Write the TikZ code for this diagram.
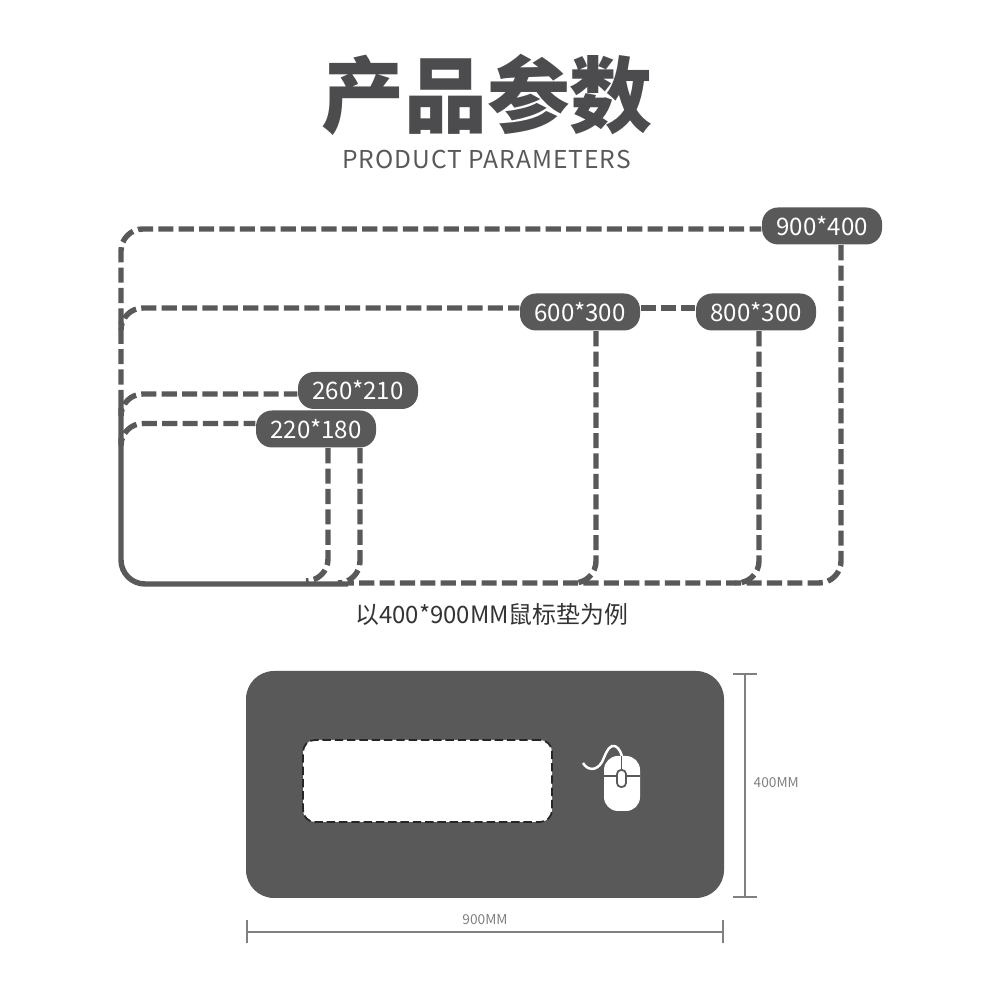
\documentclass[tikz,border=0pt]{standalone}
\usepackage{fontspec}
\setmainfont{Noto Sans CJK SC}
\newfontfamily\spacedfont[LetterSpace=4]{Noto Sans CJK SC}
\usepackage{xcolor}
\usetikzlibrary{positioning,calc}
\definecolor{padgray}{HTML}{595959}
\definecolor{titlegray}{HTML}{4C4C4E}
\definecolor{dimgray}{HTML}{808080}
\tikzset{
  sizetag/.style={fill=padgray,text=white,rounded corners=0.16cm,inner sep=0pt,minimum width=1.2cm,minimum height=0.37cm,font=\fontsize{6.85}{8}\selectfont},
  dashline/.style={padgray,line width=1.55pt,dash pattern=on 4.3pt off 1.5pt,rounded corners=0.22cm},
  solidline/.style={padgray,line width=1.55pt,rounded corners=0.24cm},
  dimline/.style={dimgray,line width=0.55pt},
  dimlabel/.style={text=dimgray,font=\fontsize{3.9}{5}\selectfont,inner sep=0pt}
}
\begin{document}
\begin{tikzpicture}
\useasboundingbox (0,0) rectangle (10,10);
\node[text=titlegray,font=\fontsize{23.6}{26}\selectfont\bfseries] (title) at (4.87,9.05) {产品参数};
\node[text=padgray,font=\fontsize{7}{8}\spacedfont] (subtitle) at (4.865,8.40) {PRODUCT PARAMETERS};

\foreach \x/\y/\name/\txt in {8.22/7.74/a/900*400,7.56/6.88/b/800*300,5.80/6.88/c/600*300,3.58/6.095/d/260*210,3.16/5.71/e/220*180}
  \node[sizetag] (tag\name) at (\x,\y) {\txt};

\coordinate (leftA) at (1.21,5.95);
\coordinate (leftB) at (1.21,6.78);
\coordinate (leftD) at (1.21,5.92);
\coordinate (leftE) at (1.21,5.62);
\coordinate (bottomA) at (3.48,4.17);
\coordinate (bottomB) at (7.35,4.17);
\coordinate (bottomC) at (5.75,4.17);
\coordinate (bottomD) at (3.38,4.17);
\coordinate (bottomE) at (3.06,4.19);
\coordinate (solidEnd) at (3.48,4.16);
\draw[dashline] (leftA) |- ($(taga.west)+(0,-0.03)$);
\draw[dashline] ($(taga.south)+(0.19,0)$) |- (bottomA);
\draw[dashline] (leftB) |- ($(tagc.west)+(0,0.04)$);
\draw[dashline] ($(tagc.east)+(0,0.04)$) -- ($(tagb.west)+(0,0.04)$);
\draw[dashline] ($(tagb.south)+(0.03,0)$) |- (bottomB);
\draw[dashline] ($(tagc.south)+(0.16,0)$) |- (bottomC);
\draw[dashline] (leftD) |- ($(tagd.west)+(0,-0.035)$);
\draw[dashline] (leftE) |- ($(tage.west)+(0,0.055)$);
\draw[dashline] ($(tage.south)+(0.44,0)$) |- (bottomD);
\draw[dashline] ($(tage.south)+(0.12,0)$) |- (bottomE);
\draw[solidline] (leftA) |- (solidEnd);

\node[text=black!80,font=\fontsize{6.8}{8}\selectfont,inner sep=0pt] (caption) at (4.92,3.85) {以400*900MM鼠标垫为例};

\node[fill=padgray,rounded corners=0.28cm,inner sep=0pt,minimum width=4.78cm,minimum height=2.27cm] (pad) at (4.85,2.155) {};
\node[fill=white,draw=black!85,line width=0.5pt,dash pattern=on 2.4pt off 1.1pt,rounded corners=0.12cm,inner sep=0pt,minimum width=2.49cm,minimum height=0.82cm] (window) at (4.275,2.19) {};

\draw[white,line width=0.7pt] (5.83,2.37) .. controls (5.87,2.30) and (5.96,2.28) .. (6.02,2.38) .. controls (6.05,2.44) and (6.07,2.52) .. (6.12,2.54) .. controls (6.17,2.55) and (6.20,2.50) .. (6.22,2.44);
\fill[white,rounded corners=0.14cm] (6.04,1.89) rectangle (6.40,2.44);
\draw[padgray,line width=0.4pt] (6.04,2.24) -- (6.40,2.24);
\draw[padgray,line width=0.4pt] (6.215,2.44) -- (6.215,2.30);
\draw[padgray,fill=white,line width=0.5pt,rounded corners=0.04cm] (6.17,2.13) rectangle (6.26,2.30);

\coordinate (vtop) at (7.45,3.26);
\coordinate (vbot) at (7.45,1.03);
\coordinate (hleft) at (2.47,0.68);
\coordinate (hright) at (7.23,0.68);
\draw[dimline,line width=0.7pt] (vtop) -- (vbot);
\draw[dimline,line width=0.7pt] ($(vtop)+(-0.12,0)$) -- ($(vtop)+(0.12,0)$);
\draw[dimline,line width=0.7pt] ($(vbot)+(-0.12,0)$) -- ($(vbot)+(0.12,0)$);
\node[dimlabel,anchor=west] (heightlabel) at (7.53,2.17) {400MM};
\draw[dimline] (hleft) -- (hright);
\draw[dimline] ($(hleft)+(0,0.12)$) -- ($(hleft)+(0,-0.11)$);
\draw[dimline] ($(hright)+(0,0.12)$) -- ($(hright)+(0,-0.11)$);
\node[dimlabel] (widthlabel) at (4.85,0.80) {900MM};
\end{tikzpicture}
\end{document}
